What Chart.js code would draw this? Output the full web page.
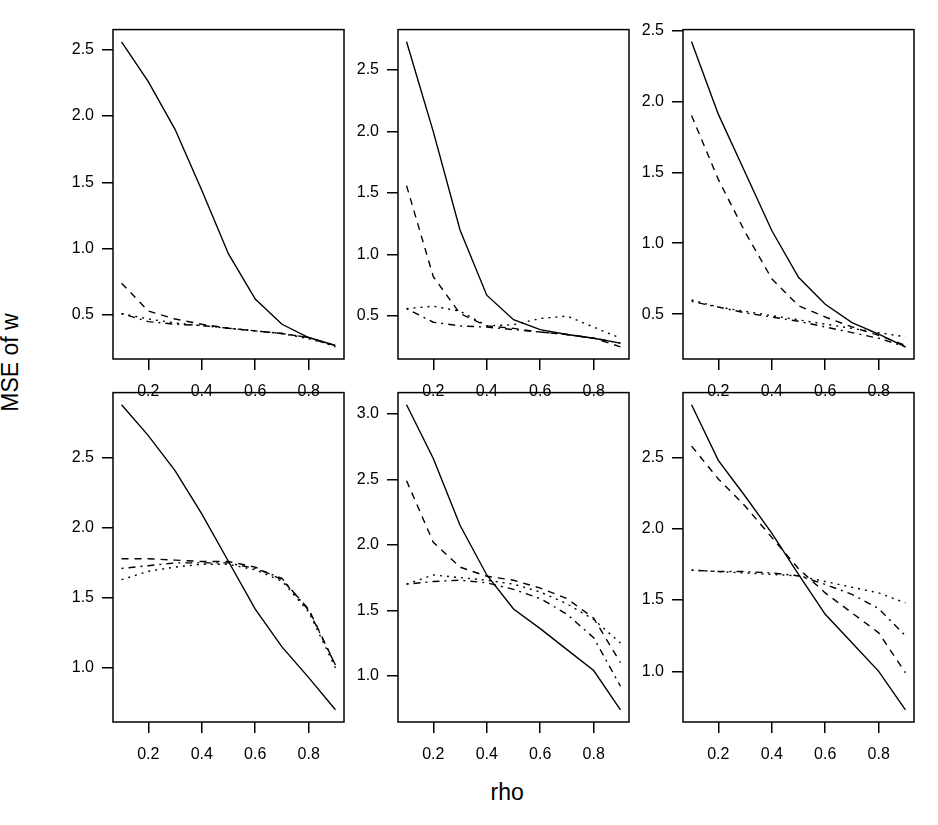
<!DOCTYPE html>
<html>
<head>
<meta charset="utf-8">
<script src="https://cdn.jsdelivr.net/npm/chart.js@4.4.1/dist/chart.umd.min.js"></script>
<style>
  body { margin: 0; background: #fff; }
  #wrap { position: relative; width: 938px; height: 825px; overflow: hidden; font-family: "Liberation Sans", Arial, sans-serif; }
  canvas { position: absolute; }
  .title { position: absolute; font-size: 23px; color: #000; white-space: nowrap; }
</style>
</head>
<body>
<div id="wrap">
  <div class="title" id="xlab">rho</div>
  <div class="title" id="ylab">MSE of w</div>
</div>
<script>
const rho = [0.1, 0.2, 0.3, 0.4, 0.5, 0.6, 0.7, 0.8, 0.9];
const xTicks = [0.2, 0.4, 0.6, 0.8];

// top row
const p1Solid   = [2.56, 2.26, 1.90, 1.44, 0.96, 0.62, 0.43, 0.33, 0.27];
const p1Dashed  = [0.74, 0.53, 0.47, 0.43, 0.40, 0.38, 0.36, 0.33, 0.27];
const p1Dotted  = [0.51, 0.47, 0.44, 0.42, 0.40, 0.38, 0.36, 0.32, 0.27];
const p1DotDash = [0.51, 0.45, 0.43, 0.42, 0.40, 0.38, 0.36, 0.33, 0.26];

const p2Solid   = [2.73, 2.00, 1.20, 0.67, 0.47, 0.39, 0.35, 0.32, 0.28];
const p2Dashed  = [1.56, 0.82, 0.52, 0.42, 0.40, 0.37, 0.35, 0.32, 0.25];
const p2Dotted  = [0.56, 0.58, 0.54, 0.42, 0.43, 0.48, 0.50, 0.41, 0.32];
const p2DotDash = [0.56, 0.45, 0.42, 0.41, 0.39, 0.37, 0.35, 0.32, 0.28];

const p3Solid   = [2.42, 1.91, 1.50, 1.09, 0.76, 0.57, 0.44, 0.36, 0.27];
const p3Dashed  = [1.90, 1.45, 1.08, 0.75, 0.56, 0.48, 0.41, 0.35, 0.28];
const p3Dotted  = [0.60, 0.55, 0.52, 0.49, 0.46, 0.43, 0.40, 0.37, 0.34];
const p3DotDash = [0.59, 0.55, 0.51, 0.48, 0.45, 0.41, 0.37, 0.33, 0.27];

// bottom row
const p4Solid   = [2.88, 2.66, 2.41, 2.10, 1.76, 1.42, 1.15, 0.93, 0.70];
const p4Dashed  = [1.78, 1.78, 1.77, 1.76, 1.76, 1.72, 1.63, 1.42, 1.02];
const p4Dotted  = [1.63, 1.69, 1.72, 1.74, 1.74, 1.70, 1.62, 1.40, 1.00];
const p4DotDash = [1.71, 1.73, 1.75, 1.75, 1.75, 1.71, 1.64, 1.41, 1.02];

const p5Solid   = [3.07, 2.66, 2.15, 1.77, 1.51, 1.36, 1.20, 1.04, 0.74];
const p5Dashed  = [2.49, 2.02, 1.83, 1.76, 1.73, 1.67, 1.59, 1.44, 1.10];
const p5Dotted  = [1.70, 1.77, 1.75, 1.73, 1.70, 1.64, 1.55, 1.43, 1.25];
const p5DotDash = [1.70, 1.72, 1.73, 1.71, 1.66, 1.59, 1.47, 1.29, 0.92];

const p6Solid   = [2.87, 2.48, 2.23, 1.97, 1.68, 1.40, 1.20, 1.00, 0.73];
const p6Dashed  = [2.58, 2.35, 2.16, 1.94, 1.72, 1.55, 1.41, 1.27, 0.99];
const p6Dotted  = [1.71, 1.70, 1.69, 1.68, 1.67, 1.63, 1.59, 1.55, 1.48];
const p6DotDash = [1.71, 1.70, 1.70, 1.69, 1.67, 1.61, 1.54, 1.44, 1.25];

const yTicksTop = [0.5, 1.0, 1.5, 2.0, 2.5];
const yTicks4 = [1.0, 1.5, 2.0, 2.5];
const yTicks5 = [1.0, 1.5, 2.0, 2.5, 3.0];
const yTicks6 = [1.0, 1.5, 2.0, 2.5];

const panels = [
  { left: 113, top: 22,  series: [p1Solid, p1Dashed, p1Dotted, p1DotDash], yt: yTicksTop },
  { left: 398, top: 22,  series: [p2Solid, p2Dashed, p2Dotted, p2DotDash], yt: yTicksTop },
  { left: 683, top: 22,  series: [p3Solid, p3Dashed, p3Dotted, p3DotDash], yt: yTicksTop },
  { left: 113, top: 385, series: [p4Solid, p4Dashed, p4Dotted, p4DotDash], yt: yTicks4 },
  { left: 398, top: 385, series: [p5Solid, p5Dashed, p5Dotted, p5DotDash], yt: yTicks5 },
  { left: 683, top: 385, series: [p6Solid, p6Dashed, p6Dotted, p6DotDash], yt: yTicks6 }
];

const dashes = [[], [7, 6], [2, 5], [2, 5, 7, 5]];
const boxW = 231, boxH = 337, padL = 60, padT = 10, padR = 10, padB = 50;
const font = { family: '"Liberation Sans", Arial, sans-serif', size: 16 };

const boxPlugin = {
  id: 'box',
  afterDatasetsDraw(chart) {
    const a = chart.chartArea, ctx = chart.ctx;
    ctx.save();
    ctx.strokeStyle = '#000';
    ctx.lineWidth = 1.5;
    ctx.strokeRect(a.left, a.top, a.right - a.left, a.bottom - a.top);
    ctx.restore();
  }
};

const wrap = document.getElementById('wrap');
panels.forEach(p => {
  const cv = document.createElement('canvas');
  cv.width = padL + boxW + padR;
  cv.height = padT + boxH + padB;
  cv.style.left = (p.left - padL) + 'px';
  cv.style.top = (p.top - padT) + 'px';
  wrap.appendChild(cv);

  const all = p.series.flat();
  const lo = Math.min(...all), hi = Math.max(...all);
  const ext = (hi - lo) * 0.04;

  new Chart(cv.getContext('2d'), {
    type: 'line',
    data: {
      datasets: p.series.map((s, i) => ({
        data: s.map((v, j) => ({ x: rho[j], y: v })),
        borderColor: '#000',
        borderWidth: 1.4,
        borderDash: dashes[i],
        pointRadius: 0,
        tension: 0,
        fill: false
      }))
    },
    options: {
      responsive: false,
      animation: false,
      devicePixelRatio: 1,
      layout: { padding: { left: 0, top: padT, right: padR, bottom: 0 } },
      plugins: { legend: { display: false }, tooltip: { enabled: false } },
      scales: {
        x: {
          type: 'linear',
          min: 0.1 - 0.8 * 0.04,
          max: 0.9 + 0.8 * 0.04,
          afterBuildTicks: sc => { sc.ticks = xTicks.map(v => ({ value: v })); },
          afterFit: sc => { sc.height = padB; },
          border: { display: false },
          grid: { drawOnChartArea: false, drawTicks: true, tickLength: 11, color: '#000', lineWidth: 1.5 },
          ticks: { color: '#000', font, padding: 12, maxRotation: 0, callback: v => v.toFixed(1) }
        },
        y: {
          min: lo - ext,
          max: hi + ext,
          afterBuildTicks: sc => { sc.ticks = p.yt.map(v => ({ value: v })); },
          afterFit: sc => { sc.width = padL; },
          border: { display: false },
          grid: { drawOnChartArea: false, drawTicks: true, tickLength: 11, color: '#000', lineWidth: 1.5 },
          ticks: { color: '#000', font, padding: 8, callback: v => v.toFixed(1) }
        }
      }
    },
    plugins: [boxPlugin]
  });
});

const xlab = document.getElementById('xlab');
xlab.style.left = (507 - xlab.offsetWidth / 2) + 'px';
xlab.style.top = (792 - xlab.offsetHeight / 2) + 'px';
const ylab = document.getElementById('ylab');
ylab.style.left = (10 - ylab.offsetWidth / 2) + 'px';
ylab.style.top = (362 - ylab.offsetHeight / 2) + 'px';
ylab.style.transform = 'rotate(-90deg)';
</script>
</body>
</html>
